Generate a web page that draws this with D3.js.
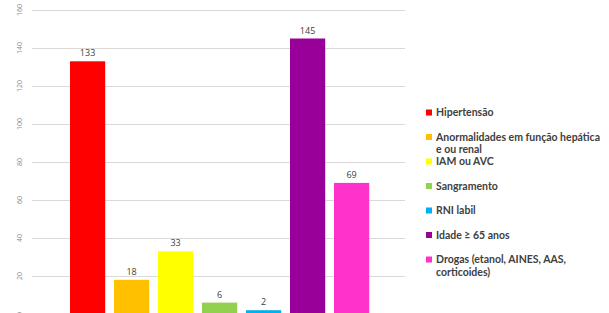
<!DOCTYPE html>
<meta charset="utf-8">
<style>
  body { margin: 0; background: #fff; }
  .grid line { stroke: #d9d9d9; stroke-width: 1px; }
  .tick-label { font-family: "Open Sans", sans-serif; font-size: 7px; fill: #8c8c8c; }
  .val { font-family: "Open Sans", sans-serif; font-size: 9px; fill: #404040; }
  .legend text { font-family: Lato, "Open Sans", sans-serif; font-size: 10.5px; font-weight: bold; fill: #404040; }
</style>
<body>
<script src="https://d3js.org/d3.v7.min.js"></script>
<svg id="chart" width="609" height="313"></svg>
<script>
  // data
  var categories = ["Hipertensão", "Anormalidades em função hepática e ou renal", "IAM ou AVC",
                    "Sangramento", "RNI labil", "Idade ≥ 65 anos", "Drogas (etanol, AINES, AAS, corticoides)"];
  var values = [133, 18, 33, 6, 2, 145, 69];
  var colors = ["#ff0000", "#ffc000", "#ffff00", "#92d050", "#00b0f0", "#990099", "#ff33cc"];
  var legendLines = [["Hipertensão"], ["Anormalidades em função hepática", "e ou renal"], ["IAM ou AVC"],
                     ["Sangramento"], ["RNI labil"], ["Idade ≥ 65 anos"], ["Drogas (etanol, AINES, AAS,", "corticoides)"]];
  var yTicks = [0, 20, 40, 60, 80, 100, 120, 140, 160];

  var svg = d3.select('#chart');

  var x = d3.scaleBand()
      .domain(categories)
      .range([65.6, 373.6])
      .paddingInner(0.2)
      .paddingOuter(0.1);

  var y = d3.scaleLinear()
      .domain([0, 160])
      .range([314, 10]);

  // gridlines
  svg.append('g').attr('class', 'grid')
    .selectAll('line')
    .data(yTicks)
    .enter().append('line')
      .attr('x1', 32)
      .attr('x2', 405)
      .attr('y1', function(d) { return Math.round(y(d)) + 0.5; })
      .attr('y2', function(d) { return Math.round(y(d)) + 0.5; });

  // rotated tick labels
  svg.append('g')
    .selectAll('text')
    .data(yTicks)
    .enter().append('text')
      .attr('class', 'tick-label')
      .attr('transform', function(d) { return 'translate(22,' + y(d) + ') rotate(-90)'; })
      .attr('text-anchor', 'middle')
      .text(function(d) { return d; });

  // bars
  svg.append('g')
    .selectAll('rect')
    .data(values)
    .enter().append('rect')
      .attr('x', function(d, i) { return x(categories[i]); })
      .attr('y', function(d) { return y(d); })
      .attr('width', x.bandwidth())
      .attr('height', function(d) { return y(0) - y(d); })
      .attr('fill', function(d, i) { return colors[i]; });

  // value labels
  svg.append('g')
    .selectAll('text')
    .data(values)
    .enter().append('text')
      .attr('class', 'val')
      .attr('x', function(d, i) { return x(categories[i]) + x.bandwidth() / 2; })
      .attr('y', function(d) { return y(d) - 5; })
      .attr('text-anchor', 'middle')
      .text(function(d) { return d; });

  // legend
  var legend = svg.append('g').attr('class', 'legend')
    .selectAll('g')
    .data(categories)
    .enter().append('g')
      .attr('transform', function(d, i) { return 'translate(426,' + (112.5 + i * 24.5) + ')'; });

  legend.append('rect')
    .attr('x', 0).attr('y', -3)
    .attr('width', 6).attr('height', 6)
    .attr('fill', function(d, i) { return colors[i]; });

  legend.append('text')
    .attr('x', 10)
    .attr('dy', '0.35em')
    .each(function(d, i) {
      var t = d3.select(this);
      legendLines[i].forEach(function(line, j) {
        t.append('tspan').attr('x', 10).attr('dy', j === 0 ? '0.35em' : '12.5px').text(line);
      });
    });
</script>
</body>
